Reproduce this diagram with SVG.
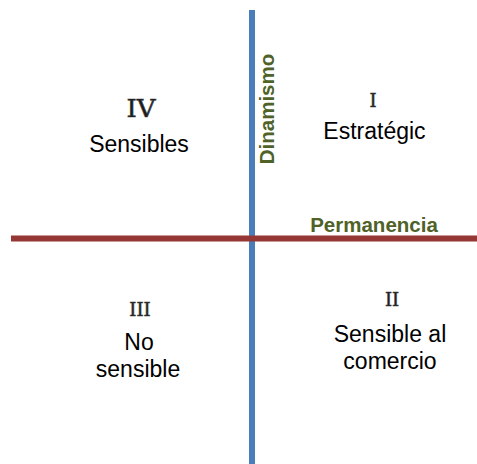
<svg xmlns="http://www.w3.org/2000/svg" width="477" height="464" viewBox="0 0 477 464">
<style>
.lbl{font-family:"Liberation Sans",Arial,sans-serif;font-size:23px;fill:#000;text-anchor:middle}
.num{font-family:"DejaVu Serif","Liberation Serif",serif;font-size:18px;fill:#1a1a1a;stroke:#3a3a3a;stroke-width:0.6;text-anchor:middle}
.axis{font-family:"Liberation Sans",Arial,sans-serif;font-size:20.5px;font-weight:bold;fill:#4f6228;text-anchor:middle}
</style>
<rect width="477" height="464" fill="#fff"/>
<g id="axes">
<line x1="252" y1="10" x2="252" y2="464" stroke="#4a7ebb" stroke-width="6"/>
<line x1="11" y1="238.5" x2="477" y2="238.5" stroke="#953735" stroke-width="6"/>
</g>
<g id="axis-labels">
<text class="axis" transform="translate(274,109) rotate(-90)">Dinamismo</text>
<text class="axis" x="374" y="232">Permanencia</text>
</g>
<g id="q4">
<text class="num" x="141" y="117" style="font-size:24px" textLength="29" lengthAdjust="spacingAndGlyphs">IV</text>
<text class="lbl" x="139" y="152">Sensibles</text>
</g>
<g id="q1">
<text class="num" x="373" y="107">I</text>
<text class="lbl" x="374.5" y="139">Estratégic</text>
</g>
<g id="q3">
<text class="num" x="140" y="316">III</text>
<text class="lbl" x="139" y="350">No</text>
<text class="lbl" x="138" y="377">sensible</text>
</g>
<g id="q2">
<text class="num" x="392" y="306">II</text>
<text class="lbl" x="390" y="342">Sensible al</text>
<text class="lbl" x="390" y="369">comercio</text>
</g>
</svg>
